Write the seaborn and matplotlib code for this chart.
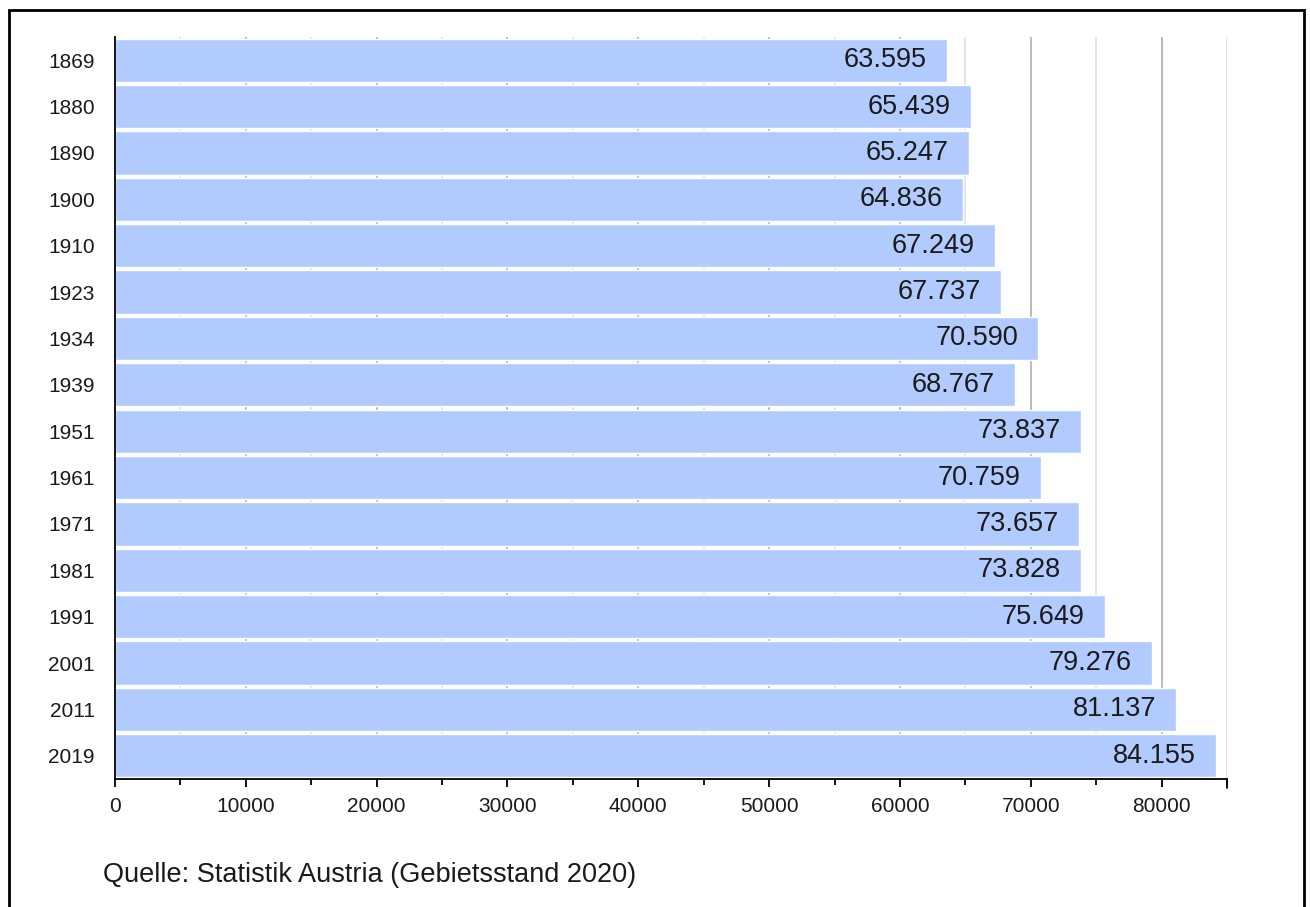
import matplotlib
matplotlib.use("Agg")
import matplotlib.pyplot as plt
from matplotlib.patches import Rectangle
from matplotlib.ticker import MultipleLocator
import pandas as pd
import seaborn as sns

# population census values
years = ["1869", "1880", "1890", "1900", "1910", "1923", "1934", "1939",
         "1951", "1961", "1971", "1981", "1991", "2001", "2011", "2019"]
population = [63595, 65439, 65247, 64836, 67249, 67737, 70590, 68767,
              73837, 70759, 73657, 73828, 75649, 79276, 81137, 84155]
source_text = "Quelle: Statistik Austria (Gebietsstand 2020)"

BAR_COLOR = "#b1cbfe"

sns.set_style("white")
plt.rcParams["font.family"] = ["Liberation Sans", "DejaVu Sans"]

df = pd.DataFrame({"year": years, "pop": population})

fig = plt.figure(figsize=(13.1, 9.07), dpi=100)
ax = fig.add_axes([115 / 1310, 1 - 779 / 907, (1227 - 115) / 1310, (779 - 37) / 907])

sns.barplot(data=df, x="pop", y="year", orient="h", color=BAR_COLOR,
            saturation=1, width=0.93, ax=ax, zorder=2)

ax.set_xlim(0, 85000)
ax.set_ylim(len(years) - 0.5, -0.5)
ax.xaxis.set_major_locator(MultipleLocator(10000))
ax.xaxis.set_minor_locator(MultipleLocator(5000))
ax.grid(True, axis="x", which="major", color="#b4b4b4", linewidth=1.3, zorder=0)
ax.grid(True, axis="x", which="minor", color="#e2e2e2", linewidth=1.3, zorder=0)
ax.set_axisbelow(True)

for s in ["top", "right"]:
    ax.spines[s].set_visible(False)
for s in ["left", "bottom"]:
    ax.spines[s].set_color("black")
    ax.spines[s].set_linewidth(1.3)

ax.tick_params(axis="x", which="major", direction="out", length=6, width=1.3,
               color="black", labelsize=15, pad=7, bottom=True,
               labelcolor="#1a1a1a")
ax.tick_params(axis="x", which="minor", direction="out", length=4, width=1.3,
               color="black", bottom=True)
ax.tick_params(axis="y", length=0, labelsize=15, pad=14.5, labelcolor="#1a1a1a")
ax.set_xlabel("")
ax.set_ylabel("")

# closing tick at the right end of the axis
ax.plot([1, 1], [0, -0.012], transform=ax.transAxes, color="black",
        lw=1.3, clip_on=False)

for i, v in enumerate(population):
    label = f"{v:,}".replace(",", ".")
    ax.annotate(label, xy=(v, i), xytext=(-14.5, 0), textcoords="offset points",
                ha="right", va="center", fontsize=19.5, color="#1a1a1a", zorder=3)

fig.text(103 / 1310, 1 - 882 / 907, source_text, fontsize=19.5,
         color="#1a1a1a", ha="left", va="baseline")

# outer frame
fig.patches.append(Rectangle((9 / 1310, -0.05), (1304 - 9) / 1310, 1.05 - 10 / 907,
                             transform=fig.transFigure, fill=False,
                             edgecolor="black", linewidth=2))

fig.savefig("out.png", dpi=100)
